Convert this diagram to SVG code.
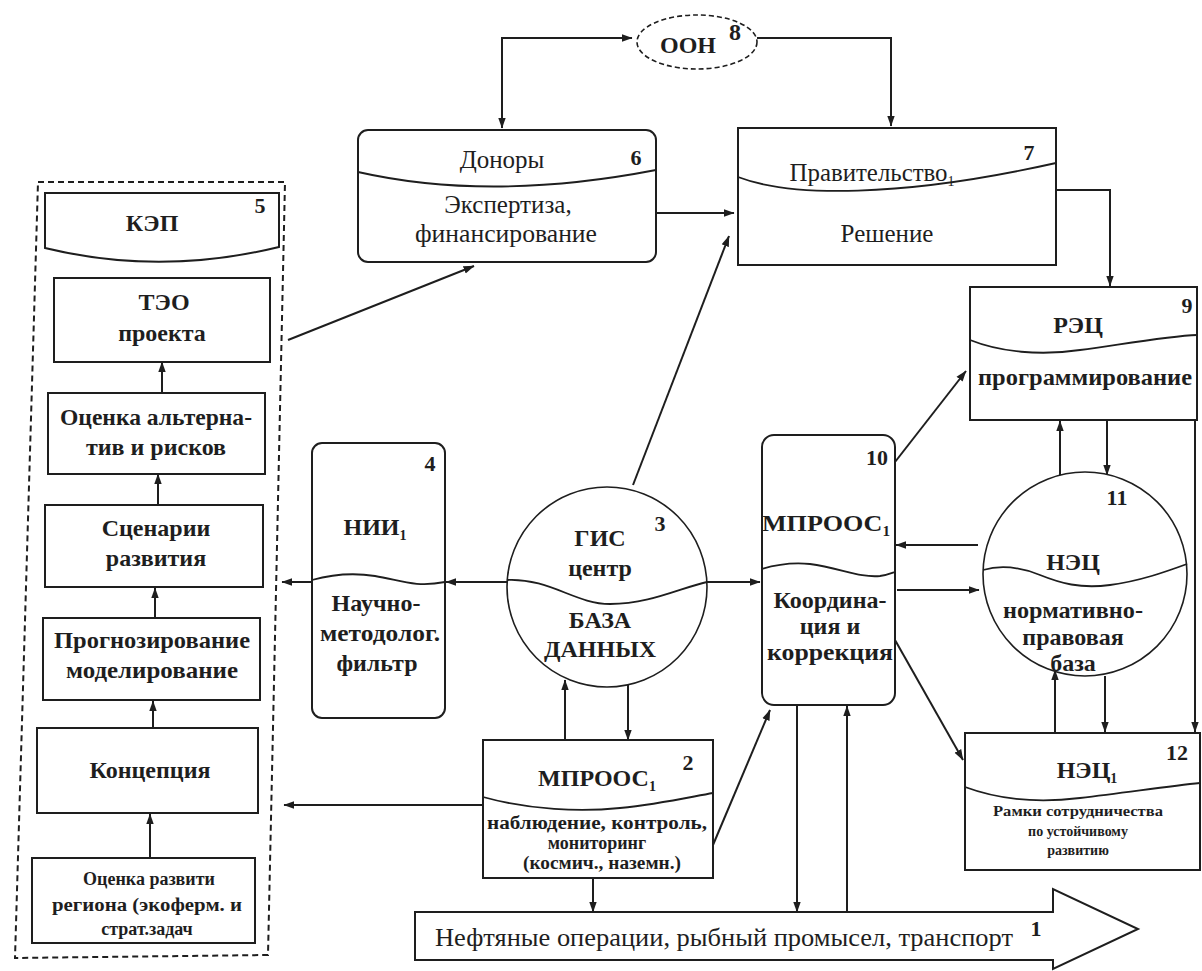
<svg xmlns="http://www.w3.org/2000/svg" width="1202" height="971" viewBox="0 0 1202 971">
<style>
.bx{fill:#fff;stroke:#1e1e1e;stroke-width:2}
.ln{fill:none;stroke:#1e1e1e;stroke-width:2}
.dv{fill:none;stroke:#1e1e1e;stroke-width:1.8}
.ar{fill:none;stroke:#1e1e1e;stroke-width:2;marker-end:url(#ah)}
.t{font-family:"Liberation Serif","DejaVu Serif","Times New Roman",serif;font-size:24px;font-weight:bold;fill:#1e1e1e;text-anchor:middle}
.r{font-weight:normal;font-size:25px}
.num{font-size:22px}
.s{font-size:18px}
.xs{font-size:14px}
.sub{font-size:14px}
</style>
<defs>
<marker id="ah" viewBox="0 0 10 10" refX="9.5" refY="5" markerWidth="11" markerHeight="11" markerUnits="userSpaceOnUse" orient="auto-start-reverse">
<path d="M0,1.5 L10,5 L0,8.5 z" fill="#1e1e1e"/>
</marker>
</defs>
<rect x="0" y="0" width="1202" height="971" fill="#fff"/>

<g id="group5">
<polygon points="38,182 285,182 268,955 15,958" fill="none" stroke="#1e1e1e" stroke-width="2" stroke-dasharray="6,4"/>
</g>

<g id="connectors">
<path class="ar" d="M502,128 V38 H632" marker-start="url(#ah)"/>
<path class="ar" d="M757,38 H891 V126"/>
<path class="ar" d="M656,213 H734"/>
<path class="ar" d="M1056,190 H1110 V286"/>
<path class="ar" d="M288,340 L474,266"/>
<path class="ar" d="M633,485 L729,236"/>
<path class="ar" d="M507,582 H446"/>
<path class="ar" d="M312,582 H282"/>
<path class="ar" d="M707,582 H760"/>
<path class="ar" d="M565,740 V680"/>
<path class="ar" d="M628,685 V740"/>
<path class="ar" d="M483,805 H284"/>
<path class="ar" d="M713,845 L770,710"/>
<path class="ar" d="M593,878 V912"/>
<path class="ar" d="M797,705 V912"/>
<path class="ar" d="M847,912 V706"/>
<path class="ar" d="M895,462 L966,371"/>
<path class="ar" d="M978,545 H896"/>
<path class="ar" d="M897,590 H979"/>
<path class="ar" d="M895,640 L963,760"/>
<path class="ar" d="M1060,477 V421"/>
<path class="ar" d="M1107,420 V475"/>
<path class="ar" d="M1195,420 V732"/>
<path class="ar" d="M1055,733 V670"/>
<path class="ar" d="M1105,676 V732"/>
<path class="ar" d="M162,393 V362"/>
<path class="ar" d="M158,505 V474"/>
<path class="ar" d="M155,618 V588"/>
<path class="ar" d="M153,728 V701"/>
<path class="ar" d="M150,858 V814"/>
</g>

<g id="n5">
<path class="bx" d="M45,193 H279 V247 Q160,276 45,248 Z"/>
<text class="t" x="152" y="231">КЭП</text>
<text class="t num" x="260" y="213">5</text>
</g>

<g id="teo">
<rect class="bx" x="54" y="278" width="216" height="84"/>
<text class="t" x="164" y="310">ТЭО</text>
<text class="t" x="162" y="341">проекта</text>
</g>

<g id="alt">
<rect class="bx" x="48" y="393" width="217" height="81"/>
<text class="t" x="156" y="425" textLength="192" lengthAdjust="spacingAndGlyphs">Оценка альтерна-</text>
<text class="t" x="156" y="455">тив и рисков</text>
</g>

<g id="scen">
<rect class="bx" x="45" y="505" width="218" height="82"/>
<text class="t" x="156" y="536">Сценарии</text>
<text class="t" x="156" y="566">развития</text>
</g>

<g id="prog">
<rect class="bx" x="43" y="618" width="217" height="82"/>
<text class="t" x="152" y="648" textLength="196" lengthAdjust="spacingAndGlyphs">Прогнозирование</text>
<text class="t" x="152" y="678" textLength="172" lengthAdjust="spacingAndGlyphs">моделирование</text>
</g>

<g id="konc">
<rect class="bx" x="37" y="728" width="221" height="85"/>
<text class="t" x="150" y="778">Концепция</text>
</g>

<g id="ocenka">
<rect class="bx" x="32" y="858" width="223" height="85"/>
<text class="t s" x="149" y="885" font-size="20">Оценка развити</text>
<text class="t s" x="147" y="911" textLength="190" lengthAdjust="spacingAndGlyphs">региона (экоферм. и</text>
<text class="t s" x="147" y="935">страт.задач</text>
</g>

<g id="n6">
<rect class="bx" x="358" y="130" width="298" height="132" rx="10"/>
<path class="dv" d="M358,172 Q490,202 656,170"/>
<text class="t r" x="502" y="168">Доноры</text>
<text class="t num" x="636" y="165">6</text>
<text class="t r" x="508" y="213">Экспертиза,</text>
<text class="t r" x="506" y="242" textLength="182" lengthAdjust="spacingAndGlyphs">финансирование</text>
</g>

<g id="n8">
<ellipse cx="697" cy="42" rx="60" ry="27" fill="#fff" stroke="#1e1e1e" stroke-width="1.6" stroke-dasharray="5,3"/>
<text class="t" x="688" y="53" font-size="22">ООН</text>
<text class="t" x="735" y="40" font-size="18">8</text>
</g>

<g id="n7">
<rect class="bx" x="738" y="128" width="318" height="137"/>
<path class="dv" d="M738,177 C790,197 900,198 1056,163"/>
<text class="t r" x="872" y="181" textLength="165" lengthAdjust="spacingAndGlyphs">Правительство<tspan class="sub" dy="5">1</tspan></text>
<text class="t r" x="887" y="242">Решение</text>
<text class="t num" x="1029" y="160">7</text>
</g>

<g id="n9">
<rect class="bx" x="970" y="287" width="227" height="133"/>
<path class="dv" d="M970,340 C1000,352 1040,356 1080,350 C1130,343 1170,336 1197,335"/>
<text class="t" x="1078" y="333">РЭЦ</text>
<text class="t num" x="1187" y="313">9</text>
<text class="t" x="1085" y="385" textLength="214" lengthAdjust="spacingAndGlyphs">программирование</text>
</g>

<g id="n4">
<rect class="bx" x="312" y="443" width="133" height="275" rx="10"/>
<path class="dv" d="M312,580 C330,575 350,572 375,576 C400,580 415,588 445,582"/>
<text class="t" x="375" y="535">НИИ<tspan class="sub" dy="5">1</tspan></text>
<text class="t num" x="430" y="471">4</text>
<text class="t" x="376" y="611">Научно-</text>
<text class="t" x="380" y="641" textLength="120" lengthAdjust="spacingAndGlyphs">методолог.</text>
<text class="t" x="377" y="671">фильтр</text>
</g>

<g id="n3">
<circle cx="607" cy="587" r="100" fill="#fff" stroke="#1e1e1e" stroke-width="1.6"/>
<path class="dv" d="M507,580 C550,578 575,604 610,604 C650,604 680,588 707,582"/>
<text class="t" x="600" y="546">ГИС</text>
<text class="t num" x="660" y="531">3</text>
<text class="t" x="600" y="576">центр</text>
<text class="t" x="600" y="628">БАЗА</text>
<text class="t" x="600" y="657">ДАННЫХ</text>
</g>

<g id="n10">
<rect class="bx" x="762" y="435" width="133" height="270" rx="12"/>
<path class="dv" d="M762,569 C775,565 790,562 810,564 C840,568 860,578 880,576 C888,575 892,573 895,572"/>
<text class="t num" x="877" y="465">10</text>
<text class="t" x="826" y="531" textLength="128" lengthAdjust="spacingAndGlyphs">МПРООС<tspan class="sub" dy="5">1</tspan></text>
<text class="t" x="830" y="608">Координа-</text>
<text class="t" x="830" y="634">ция и</text>
<text class="t" x="830" y="660" textLength="126" lengthAdjust="spacingAndGlyphs">коррекция</text>
</g>

<g id="n11">
<circle cx="1085" cy="574" r="102" fill="#fff" stroke="#1e1e1e" stroke-width="1.6"/>
<path class="dv" d="M983,570 C1000,565 1020,567 1040,575 C1060,583 1080,589 1110,585 C1140,581 1165,572 1187,564"/>
<text class="t num" x="1117" y="505">11</text>
<text class="t" x="1073" y="570">НЭЦ</text>
<text class="t" x="1073" y="618" textLength="140" lengthAdjust="spacingAndGlyphs">нормативно-</text>
<text class="t" x="1073" y="645">правовая</text>
<text class="t" x="1073" y="671">база</text>
</g>

<g id="n2">
<rect class="bx" x="483" y="740" width="230" height="138"/>
<path class="dv" d="M483,797 C530,810 580,812 620,808 C660,804 690,797 713,793"/>
<text class="t" x="597" y="786">МПРООС<tspan class="sub" dy="5">1</tspan></text>
<text class="t num" x="688" y="770">2</text>
<text class="t s" x="597" y="829" textLength="220" lengthAdjust="spacingAndGlyphs">наблюдение, контроль,</text>
<text class="t s" x="597" y="849">мониторинг</text>
<text class="t s" x="602" y="869" textLength="158" lengthAdjust="spacingAndGlyphs">(космич., наземн.)</text>
</g>

<g id="n12">
<rect class="bx" x="965" y="733" width="235" height="137"/>
<path class="dv" d="M965,787 C1000,800 1040,803 1080,798 C1130,792 1170,786 1200,783"/>
<text class="t" x="1087" y="778">НЭЦ<tspan class="sub" dy="5">1</tspan></text>
<text class="t num" x="1177" y="760">12</text>
<text class="t xs" x="1078" y="816" textLength="170" lengthAdjust="spacingAndGlyphs">Рамки сотрудничества</text>
<text class="t xs" x="1078" y="836">по устойчивому</text>
<text class="t xs" x="1078" y="855">развитию</text>
</g>

<g id="n1">
<path class="bx" d="M415,912 H1053 V889 L1138,929 L1053,969 V960 H415 Z"/>
<text x="435" y="946" font-family="'Liberation Serif','DejaVu Serif',serif" font-size="25" fill="#1e1e1e" textLength="578" lengthAdjust="spacingAndGlyphs">Нефтяные операции, рыбный промысел, транспорт</text>
<text class="t num" x="1036" y="936">1</text>
</g>
</svg>
